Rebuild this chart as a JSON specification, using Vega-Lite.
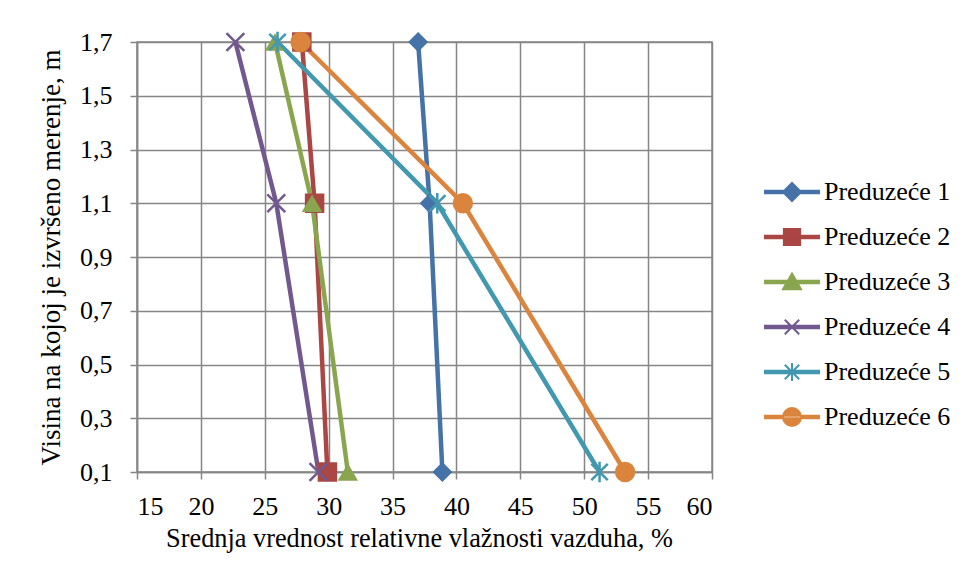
{
  "$schema": "https://vega.github.io/schema/vega-lite/v6.json",
  "width": 575,
  "height": 430,
  "autosize": {"type": "none"},
  "padding": {"left": 137, "top": 42, "right": 254, "bottom": 111},
  "background": "white",
  "config": {
    "font": "Liberation Serif",
    "view": {"stroke": "#868686", "strokeWidth": 1.5},
    "axis": {
      "labelFont": "Liberation Serif",
      "titleFont": "Liberation Serif",
      "labelFontSize": 26,
      "titleFontSize": 27,
      "titleFontWeight": "normal",
      "labelColor": "black",
      "titleColor": "black",
      "domainColor": "#868686",
      "domainWidth": 1.5,
      "tickColor": "#868686",
      "tickWidth": 1.5,
      "tickSize": 7,
      "gridColor": "#868686",
      "gridWidth": 1.5,
      "gridOpacity": 1
    }
  },
  "data": {
    "values": [
      {"series": "Preduzeće 1", "x": 37.0, "h": 1.7},
      {"series": "Preduzeće 1", "x": 37.9, "h": 1.1},
      {"series": "Preduzeće 1", "x": 38.9, "h": 0.1},
      {"series": "Preduzeće 2", "x": 27.9, "h": 1.7},
      {"series": "Preduzeće 2", "x": 28.9, "h": 1.1},
      {"series": "Preduzeće 2", "x": 29.9, "h": 0.1},
      {"series": "Preduzeće 3", "x": 25.8, "h": 1.7},
      {"series": "Preduzeće 3", "x": 28.7, "h": 1.1},
      {"series": "Preduzeće 3", "x": 31.5, "h": 0.1},
      {"series": "Preduzeće 4", "x": 22.7, "h": 1.7},
      {"series": "Preduzeće 4", "x": 25.9, "h": 1.1},
      {"series": "Preduzeće 4", "x": 29.2, "h": 0.1},
      {"series": "Preduzeće 5", "x": 26.0, "h": 1.7},
      {"series": "Preduzeće 5", "x": 38.5, "h": 1.1},
      {"series": "Preduzeće 5", "x": 51.2, "h": 0.1},
      {"series": "Preduzeće 6", "x": 27.8, "h": 1.7},
      {"series": "Preduzeće 6", "x": 40.5, "h": 1.1},
      {"series": "Preduzeće 6", "x": 53.2, "h": 0.1}
    ]
  },
  "encoding": {
    "x": {
      "field": "x",
      "type": "quantitative",
      "scale": {"domain": [15, 60], "nice": false, "zero": false},
      "axis": {
        "values": [15, 20, 25, 30, 35, 40, 45, 50, 55, 60],
        "title": "Srednja vrednost relativne vlažnosti vazduha, %",
        "titleFontSize": 26.3,
        "titleX": 282,
        "labelPadding": 14,
        "titlePadding": 6
      }
    },
    "y": {
      "field": "h",
      "type": "quantitative",
      "scale": {"domain": [0.1, 1.7], "nice": false, "zero": false},
      "axis": {
        "values": [0.1, 0.3, 0.5, 0.7, 0.9, 1.1, 1.3, 1.5, 1.7],
        "labelExpr": "replace(format(datum.value, '.1f'), '.', ',')",
        "title": "Visina na kojoj je izvršeno merenje, m",
        "labelPadding": 18,
        "titlePadding": 14
      }
    },
    "color": {
      "field": "series",
      "type": "nominal",
      "scale": {
        "domain": ["Preduzeće 1", "Preduzeće 2", "Preduzeće 3", "Preduzeće 4", "Preduzeće 5", "Preduzeće 6"],
        "range": ["#4572A7", "#AA4643", "#89A54E", "#71588F", "#4198AF", "#DB843D"]
      },
      "legend": {
        "orient": "none",
        "legendX": 642,
        "legendY": 137,
        "title": null,
        "padding": 0,
        "labelFont": "Liberation Serif",
        "labelFontSize": 26,
        "labelColor": "black",
        "symbolSize": 324,
        "labelOffset": 19,
        "rowPadding": 19,
        "encode": {
          "symbols": {
            "update": {
              "shape": {"signal": "datum.value === 'Preduzeće 1' ? 'M-3,-0.14H3V0.14H-3Z M0,-1L1,0L0,1L-1,0Z' : datum.value === 'Preduzeće 2' ? 'M-3,-0.14H3V0.14H-3Z M-0.9,-0.9H0.9V0.9H-0.9Z' : datum.value === 'Preduzeće 3' ? 'M-3,-0.14H3V0.14H-3Z M0,-0.95L1,0.8L-1,0.8Z' : datum.value === 'Preduzeće 4' ? 'M-3,-0.14H3V0.14H-3Z M-0.8,-0.8L0.8,0.8M0.8,-0.8L-0.8,0.8' : datum.value === 'Preduzeće 5' ? 'M-3,-0.14H3V0.14H-3Z M-0.8,-0.8L0.8,0.8M0.8,-0.8L-0.8,0.8M0,-1V1' : 'M-3,-0.14H3V0.14H-3Z M-1,0A1,1 0 1,0 1,0A1,1 0 1,0 -1,0Z'"},
              "fill": {"signal": "scale('color', datum.value)"},
              "stroke": {"signal": "scale('color', datum.value)"},
              "strokeWidth": {"value": 2},
              "opacity": {"value": 1},
              "fillOpacity": {"value": 1}
            }
          }
        }
      }
    }
  },
  "layer": [
    {
      "mark": {"type": "line", "strokeWidth": 4.5, "clip": false},
      "encoding": {"order": {"field": "h", "type": "quantitative"}}
    },
    {
      "transform": [{"filter": "datum.series === 'Preduzeće 1'"}],
      "mark": {"type": "point", "shape": "diamond", "filled": true, "size": 400, "opacity": 1, "clip": false}
    },
    {
      "transform": [{"filter": "datum.series === 'Preduzeće 2'"}],
      "mark": {"type": "point", "shape": "square", "filled": true, "size": 380, "opacity": 1, "clip": false}
    },
    {
      "transform": [{"filter": "datum.series === 'Preduzeće 3'"}],
      "mark": {"type": "point", "shape": "triangle-up", "filled": true, "size": 420, "opacity": 1, "clip": false}
    },
    {
      "transform": [{"filter": "datum.series === 'Preduzeće 4'"}],
      "mark": {"type": "point", "shape": "M-0.8,-0.8L0.8,0.8M0.8,-0.8L-0.8,0.8", "filled": false, "size": 500, "strokeWidth": 2.5, "opacity": 1, "clip": false}
    },
    {
      "transform": [{"filter": "datum.series === 'Preduzeće 5'"}],
      "mark": {"type": "point", "shape": "M-0.8,-0.8L0.8,0.8M0.8,-0.8L-0.8,0.8M0,-1V1", "filled": false, "size": 420, "strokeWidth": 2.5, "opacity": 1, "clip": false}
    },
    {
      "transform": [{"filter": "datum.series === 'Preduzeće 6'"}],
      "mark": {"type": "point", "shape": "circle", "filled": true, "size": 420, "opacity": 1, "clip": false}
    }
  ]
}
